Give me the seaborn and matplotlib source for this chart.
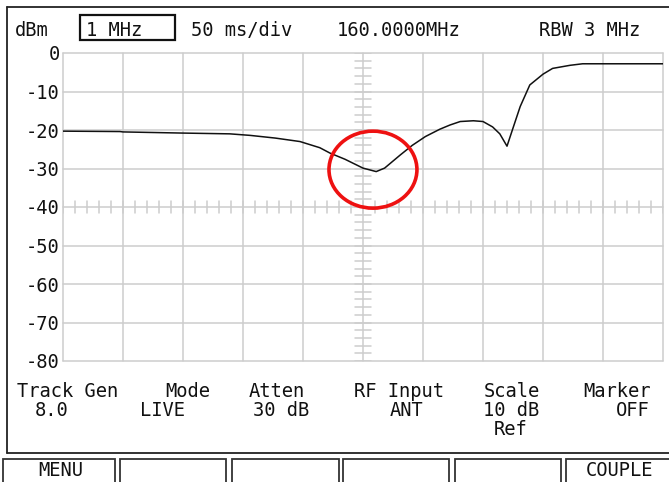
import matplotlib
matplotlib.use("Agg")
import matplotlib.pyplot as plt
from matplotlib.patches import Ellipse, Rectangle
from matplotlib.lines import Line2D
import seaborn as sns
import pandas as pd

# Sweep trace: time across the screen (ms) and measured level (dBm)
sweep_ms = [0, 47.5, 50, 100, 139, 156, 177, 197.5, 214, 222.5,
            235, 250, 261, 268, 281, 291, 302, 314, 322.5, 331,
            342, 350, 358, 364, 370, 375, 381, 389, 400, 408,
            422.5, 433, 500]
level_dbm = [-20.3, -20.4, -20.5, -20.8, -21.0, -21.4, -22.1, -23.0, -24.6, -26.0,
             -27.6, -29.9, -30.8, -29.9, -26.5, -24.0, -21.7, -19.8, -18.7, -17.8,
             -17.6, -17.8, -19.2, -21.0, -24.2, -19.5, -13.9, -8.3, -5.5, -4.0,
             -3.2, -2.8, -2.8]

# Vertical scale labels
ref_levels = [0, -10, -20, -30, -40, -50, -60, -70, -80]
level_labels = ["0", "-10", "-20", "-30", "-40", "-50", "-60", "-70", "-80"]

# Header line
unit_label = "dBm"
span_label = "1 MHz"
sweep_label = "50 ms/div"
center_label = "160.0000MHz"
rbw_label = "RBW 3 MHz"

# Status block: titles and values
status_titles = ["Track Gen", "Mode", "Atten", "RF Input", "Scale", "Marker"]
status_values = ["8.0", "LIVE", "30 dB", "ANT", "10 dB", "OFF"]
scale_extra = "Ref"

# Soft keys
softkeys = ["MENU", "", "", "", "", "COUPLE"]

sns.set_theme(style="white")
FONT = "DejaVu Sans Mono"
plt.rcParams["font.family"] = [FONT, "DejaVu Sans"]

W, H = 669, 482
fig = plt.figure(figsize=(W / 100, H / 100), dpi=100)
fig.patch.set_facecolor("white")


def fx(px):
    return px / W


def fy(py):
    return 1 - py / H


# Graticule area
ax = fig.add_axes([fx(63), fy(361), 600 / W, 308 / H])
ax.set_xlim(0, 500)
ax.set_ylim(-80, 0)
for s in ax.spines.values():
    s.set_visible(False)

grid_c = "#cdcdcd"
grid_lw = 1.1
for t in range(0, 501, 50):
    ax.axvline(t, color=grid_c, lw=grid_lw, zorder=1, clip_on=False)
for lv in ref_levels:
    ax.axhline(lv, color=grid_c, lw=grid_lw, zorder=1, clip_on=False)

# Centre cross with fine division marks
for t in range(0, 501, 10):
    ax.add_line(Line2D([t, t], [-41.6, -38.4], color=grid_c, lw=grid_lw, zorder=1))
for lv in range(-80, 1, 2):
    ax.add_line(Line2D([243.3, 256.7], [lv, lv], color=grid_c, lw=grid_lw, zorder=1))

trace = pd.DataFrame({"ms": sweep_ms, "dbm": level_dbm})
sns.lineplot(data=trace, x="ms", y="dbm", ax=ax, color="#111111",
             linewidth=1.1, sort=False, zorder=3)

ax.set_xlabel("")
ax.set_ylabel("")
ax.set_xticks([])
ax.set_yticks(ref_levels)
ax.set_yticklabels(level_labels, fontsize=13.5, family=FONT, color="#111111")
ax.tick_params(axis="y", length=0, pad=2.5)

# Highlight around the notch
ax.add_patch(Ellipse((258.3, -30.3), 73.3, 20.0, fill=False,
                     edgecolor="#ee1111", lw=2.6, zorder=4, clip_on=False))

# Header texts
txt = dict(fontsize=13.5, family=FONT, color="#111111", va="baseline", ha="center")
fig.text(fx(32), fy(36), unit_label, **txt)
fig.text(fx(114), fy(36), span_label, **txt)
fig.patches.append(Rectangle((fx(80), fy(40)), fx(95), 25 / H, fill=False,
                             edgecolor="#111111", lw=1.6, transform=fig.transFigure))
fig.text(fx(242), fy(36), sweep_label, **txt)
fig.text(fx(399), fy(36), center_label, **txt)
fig.text(fx(590), fy(36), rbw_label, **txt)

# Status block
title_cx = [68, 188, 277, 399, 512, 617]
value_cx = [52, 163, 281, 407, 511, 633]
for t, v, cx1, cx2 in zip(status_titles, status_values, title_cx, value_cx):
    fig.text(fx(cx1), fy(397), t, **txt)
    fig.text(fx(cx2), fy(416), v, **txt)
fig.text(fx(511), fy(435), scale_extra, **txt)

# Frame lines
frame_c = "#222222"
fig.add_artist(Line2D([fx(7), fx(669)], [fy(7), fy(7)], color=frame_c, lw=1.3))
fig.add_artist(Line2D([fx(7), fx(7)], [fy(7), fy(453)], color=frame_c, lw=1.3))
fig.add_artist(Line2D([fx(7), fx(669)], [fy(453), fy(453)], color=frame_c, lw=1.3))

# Soft-key boxes
key_edges = [(3, 115), (120, 226), (232, 339), (343, 449), (455, 561), (566, 672)]
for (x0, x1), label in zip(key_edges, softkeys):
    fig.patches.append(Rectangle((fx(x0), fy(490)), (x1 - x0) / W, 31 / H, fill=False,
                                 edgecolor="#333333", lw=1.3, transform=fig.transFigure))
    if label:
        fig.text(fx((x0 + min(x1, 669)) / 2 + 2), fy(476), label, **txt)

fig.savefig("out.png", dpi=100)
